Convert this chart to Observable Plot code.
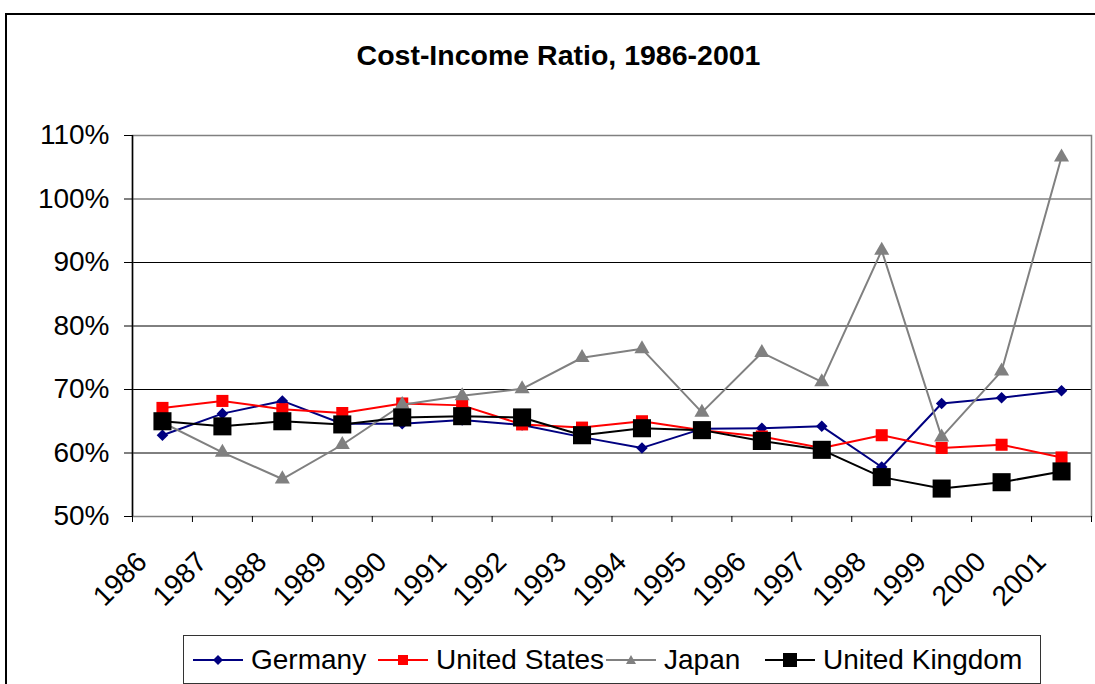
<!DOCTYPE html>
<html>
<head>
<meta charset="utf-8">
<script src="https://cdn.jsdelivr.net/npm/d3@7"></script>
<script src="https://cdn.jsdelivr.net/npm/@observablehq/plot@0.6"></script>
<style>
  html, body { margin: 0; padding: 0; background: #fff; overflow: hidden; width: 1095px; height: 684px; }
  body { position: relative; font-family: "Liberation Sans", Arial, sans-serif; color: #000; }
  #outer { position: absolute; left: 5px; top: 13px; width: 1200px; height: 800px; border: 2px solid #000; box-sizing: border-box; }
  #title { position: absolute; left: 0; top: 41px; width: 1117px; text-align: center; font-weight: bold; font-size: 28.5px; line-height: 28px; white-space: nowrap; }
  #chart { position: absolute; left: 0; top: 100px; }
  #legend { position: absolute; left: 183px; top: 635px; width: 858px; height: 49px; border: 1px solid #333; box-sizing: border-box; }
  .item { position: absolute; top: 0; height: 47px; display: flex; align-items: center; font-size: 28px; white-space: nowrap; }
  .item svg { margin-right: 8px; }
</style>
</head>
<body>
<div id="outer"></div>
<div id="title">Cost-Income Ratio, 1986-2001</div>
<div id="chart"></div>
<div id="legend"></div>
<script>
const years = [1986, 1987, 1988, 1989, 1990, 1991, 1992, 1993, 1994, 1995, 1996, 1997, 1998, 1999, 2000, 2001];
const germany       = [62.8, 66.2, 68.2, 64.6, 64.6, 65.2, 64.4, 62.5, 60.8, 63.8, 63.9, 64.2, 57.8, 67.8, 68.7, 69.8];
const unitedStates  = [67.1, 68.2, 66.9, 66.3, 67.8, 67.5, 64.5, 64.0, 65.0, 63.6, 62.6, 60.8, 62.8, 60.8, 61.3, 59.3];
const japan         = [64.8, 60.1, 55.9, 61.3, 67.6, 69.0, 70.1, 75.0, 76.4, 66.4, 75.8, 71.2, 91.9, 62.5, 72.9, 106.6];
const unitedKingdom = [65.0, 64.2, 65.0, 64.5, 65.6, 65.8, 65.6, 62.8, 63.9, 63.6, 61.9, 60.5, 56.2, 54.4, 55.4, 57.1];
const yTicks = [50, 60, 70, 80, 90, 100, 110];
const seriesNames = ["Germany", "United States", "Japan", "United Kingdom"];

const seriesValues = [germany, unitedStates, japan, unitedKingdom];
const styles = [
  {color: "#000080", symbol: "diamond2", r: 5.2},
  {color: "#FF0000", symbol: "square", r: 6.8},
  {color: "#808080", symbol: "triangle", r: 5.6},
  {color: "#000000", symbol: "square", r: 10.2}
];
const bounds = years.map(y => y - 0.5).concat([years[years.length - 1] + 0.5]);
const font = "Liberation Sans, Arial, sans-serif";

const seriesMarks = [];
seriesValues.forEach((vals, i) => {
  const data = years.map((y, j) => ({year: y, value: vals[j]}));
  const s = styles[i];
  seriesMarks.push(Plot.line(data, {x: "year", y: "value", stroke: s.color, strokeWidth: 2}));
  seriesMarks.push(Plot.dot(data, {x: "year", y: "value", symbol: s.symbol, r: s.r, fill: s.color, stroke: "none"}));
});

const chart = Plot.plot({
  width: 1095,
  height: 520,
  marginTop: 35,
  marginBottom: 104,
  marginLeft: 132,
  marginRight: 4,
  style: {fontFamily: font, fontSize: "28px", color: "#000", background: "transparent", overflow: "visible"},
  x: {domain: [bounds[0], bounds[bounds.length - 1]], label: null},
  y: {domain: [50, 110], label: null},
  marks: [
    Plot.ruleY(yTicks.filter(d => d > 50 && d < 100), {stroke: "#000", strokeWidth: 1}),
    Plot.ruleY([100], {stroke: "#808080", strokeWidth: 1.5}),
    Plot.frame({stroke: "#808080", strokeWidth: 1.5}),
    Plot.ruleX([bounds[0]], {stroke: "#000", strokeWidth: 1.5}),
    Plot.axisY({ticks: yTicks, tickSize: 8, tickPadding: 15, tickFormat: d => d + "%", fontSize: 28, label: null, stroke: "#000"}),
    Plot.axisX({ticks: bounds, tickSize: 6, tickFormat: () => "", label: null, stroke: "#000"}),
    Plot.text(years, {x: d => d, text: d => String(d), frameAnchor: "bottom", dx: -14, dy: 47, rotate: -45, textAnchor: "end", lineAnchor: "bottom", fontSize: 28, fill: "#000"}),
    ...seriesMarks
  ]
});
document.getElementById("chart").appendChild(chart);

// Legend
const legend = document.getElementById("legend");
const lefts = [9, 194, 422, 581];
const markerSvg = (s) => {
  let m = "";
  if (s.symbol === "diamond2") m = `<path d="M25,5 L30,10 L25,15 L20,10 Z" fill="${s.color}"/>`;
  else if (s.symbol === "triangle") m = `<path d="M25,5 L30,14 L20,14 Z" fill="${s.color}"/>`;
  else {
    const h = s.r > 8 ? 7 : 5;
    m = `<rect x="${25 - h}" y="${10 - h}" width="${2 * h}" height="${2 * h}" fill="${s.color}"/>`;
  }
  return `<svg width="50" height="20" viewBox="0 0 50 20"><line x1="0" y1="10" x2="50" y2="10" stroke="${s.color}" stroke-width="2"/>${m}</svg>`;
};
seriesNames.forEach((name, i) => {
  const div = document.createElement("div");
  div.className = "item";
  div.style.left = lefts[i] + "px";
  div.innerHTML = markerSvg(styles[i]) + "<span>" + name + "</span>";
  legend.appendChild(div);
});
</script>
</body>
</html>
